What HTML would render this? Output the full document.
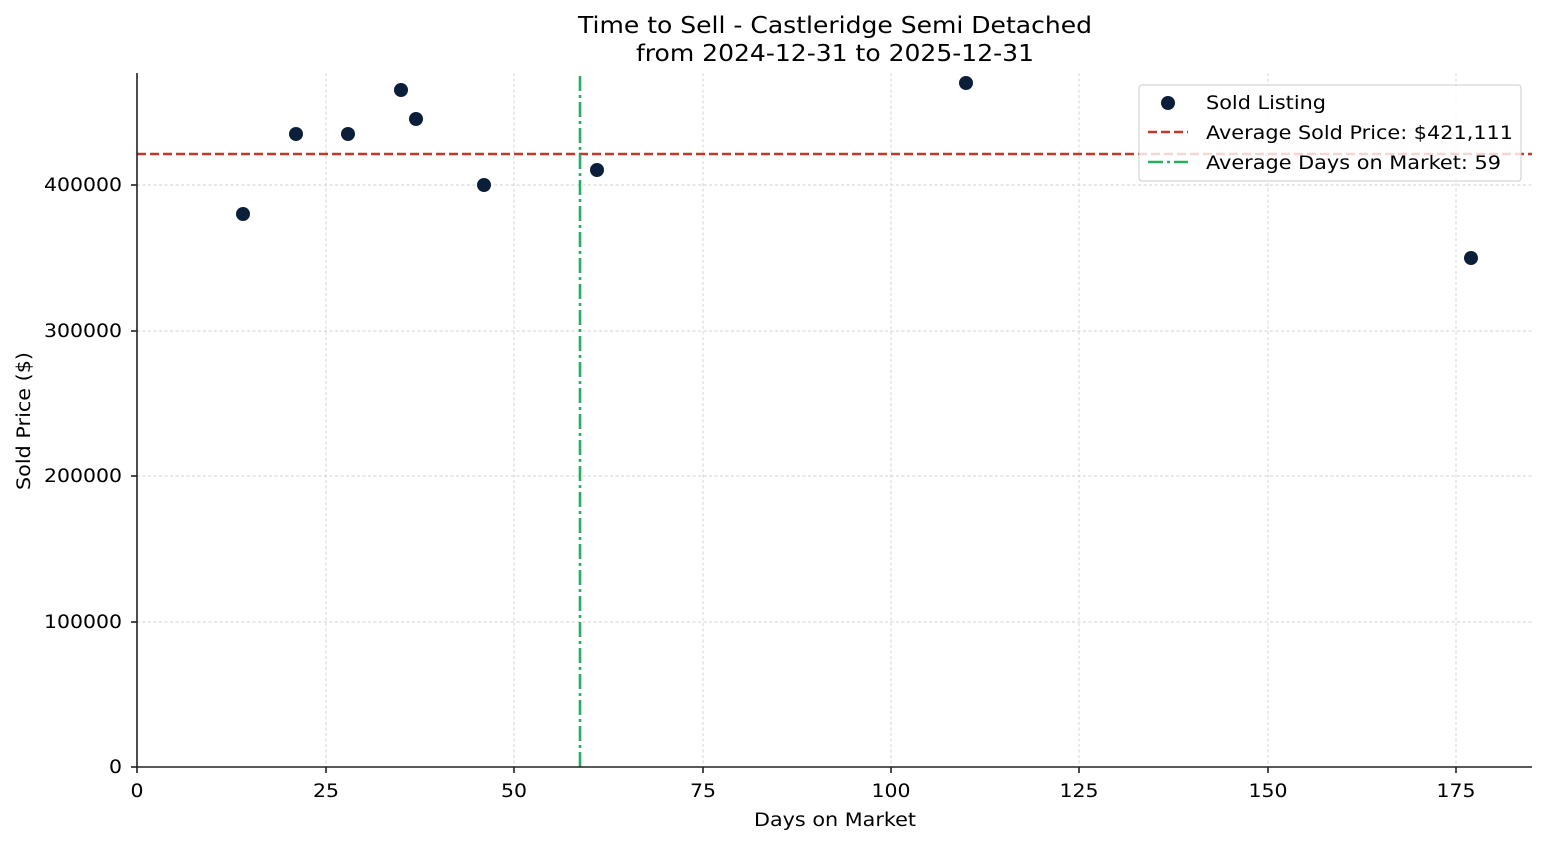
<!DOCTYPE html>
<html><head><meta charset="utf-8"><style>
body{margin:0;background:#fff}
svg{display:block;font-family:"DejaVu Sans","Liberation Sans",sans-serif}
</style></head><body>
<svg width="1547" height="845" viewBox="0 0 1547 845" xmlns="http://www.w3.org/2000/svg">
<rect width="1547" height="845" fill="#fff"/>
<g stroke="#d0d0d0" stroke-width="0.9" stroke-dasharray="3,2.5">
<line x1="326" y1="73" x2="326" y2="767"/><line x1="514" y1="73" x2="514" y2="767"/>
<line x1="703" y1="73" x2="703" y2="767"/><line x1="891" y1="73" x2="891" y2="767"/>
<line x1="1079" y1="73" x2="1079" y2="767"/><line x1="1268" y1="73" x2="1268" y2="767"/>
<line x1="1456" y1="73" x2="1456" y2="767"/>
<line x1="137" y1="622" x2="1532" y2="622"/><line x1="137" y1="476" x2="1532" y2="476"/>
<line x1="137" y1="331" x2="1532" y2="331"/><line x1="137" y1="185" x2="1532" y2="185"/>
</g>
<line x1="137" y1="154" x2="1532" y2="154" stroke="#c0392b" stroke-width="2.6" stroke-dasharray="9,4"/>
<line x1="580" y1="76" x2="580" y2="767" stroke="#27ae60" stroke-width="2.6" stroke-dasharray="15,4,3,4"/>
<g fill="#0b1f3a">
<circle cx="243" cy="214" r="7"/><circle cx="296" cy="134" r="7"/><circle cx="348" cy="134" r="7"/>
<circle cx="401" cy="90" r="7"/><circle cx="416" cy="119" r="7"/><circle cx="484" cy="185" r="7"/>
<circle cx="597" cy="170" r="7"/><circle cx="966" cy="83" r="7"/><circle cx="1471" cy="258" r="7"/>
</g>
<g stroke="#222" stroke-width="1.6">
<line x1="137" y1="73" x2="137" y2="768"/><line x1="136" y1="767" x2="1532" y2="767"/>
<line x1="137" y1="767" x2="137" y2="773"/><line x1="326" y1="767" x2="326" y2="773"/>
<line x1="514" y1="767" x2="514" y2="773"/><line x1="703" y1="767" x2="703" y2="773"/>
<line x1="891" y1="767" x2="891" y2="773"/><line x1="1079" y1="767" x2="1079" y2="773"/>
<line x1="1268" y1="767" x2="1268" y2="773"/><line x1="1456" y1="767" x2="1456" y2="773"/>
<line x1="131" y1="767" x2="137" y2="767"/><line x1="131" y1="622" x2="137" y2="622"/>
<line x1="131" y1="476" x2="137" y2="476"/><line x1="131" y1="331" x2="137" y2="331"/>
<line x1="131" y1="185" x2="137" y2="185"/>
</g>
<g font-size="18.5" fill="#000" text-anchor="middle" lengthAdjust="spacingAndGlyphs">
<text x="137" y="797" textLength="13" lengthAdjust="spacingAndGlyphs">0</text>
<text x="326" y="797" textLength="26" lengthAdjust="spacingAndGlyphs">25</text>
<text x="514" y="797" textLength="26" lengthAdjust="spacingAndGlyphs">50</text>
<text x="703" y="797" textLength="26" lengthAdjust="spacingAndGlyphs">75</text>
<text x="891" y="797" textLength="39" lengthAdjust="spacingAndGlyphs">100</text>
<text x="1079" y="797" textLength="39" lengthAdjust="spacingAndGlyphs">125</text>
<text x="1268" y="797" textLength="39" lengthAdjust="spacingAndGlyphs">150</text>
<text x="1456" y="797" textLength="39" lengthAdjust="spacingAndGlyphs">175</text>
<text x="835" y="826" textLength="162" lengthAdjust="spacingAndGlyphs">Days on Market</text>
<text x="835" y="33" font-size="23" textLength="514" lengthAdjust="spacingAndGlyphs">Time to Sell - Castleridge Semi Detached</text>
<text x="835" y="61" font-size="23" textLength="398" lengthAdjust="spacingAndGlyphs">from 2024-12-31 to 2025-12-31</text>
</g>
<g font-size="18.5" fill="#000" text-anchor="end">
<text x="122" y="773" textLength="13" lengthAdjust="spacingAndGlyphs">0</text>
<text x="122" y="628" textLength="78" lengthAdjust="spacingAndGlyphs">100000</text>
<text x="122" y="482" textLength="78" lengthAdjust="spacingAndGlyphs">200000</text>
<text x="122" y="337" textLength="78" lengthAdjust="spacingAndGlyphs">300000</text>
<text x="122" y="191" textLength="78" lengthAdjust="spacingAndGlyphs">400000</text>
</g>
<text x="30" y="421" font-size="18.5" text-anchor="middle" transform="rotate(-90 30 421)" textLength="138" lengthAdjust="spacingAndGlyphs">Sold Price ($)</text>
<rect x="1139" y="85" width="382" height="96" rx="3" fill="#fff" fill-opacity="0.8" stroke="#ccc"/>
<circle cx="1168" cy="103" r="7" fill="#0b1f3a"/>
<line x1="1148" y1="132" x2="1188" y2="132" stroke="#c0392b" stroke-width="2.6" stroke-dasharray="9,4"/>
<line x1="1148" y1="162" x2="1188" y2="162" stroke="#27ae60" stroke-width="2.6" stroke-dasharray="15,4,3,4"/>
<g font-size="19" fill="#000">
<text x="1206" y="109" textLength="120" lengthAdjust="spacingAndGlyphs">Sold Listing</text>
<text x="1206" y="139" textLength="307" lengthAdjust="spacingAndGlyphs">Average Sold Price: $421,111</text>
<text x="1206" y="169" textLength="295" lengthAdjust="spacingAndGlyphs">Average Days on Market: 59</text>
</g>
</svg>
</body></html>
